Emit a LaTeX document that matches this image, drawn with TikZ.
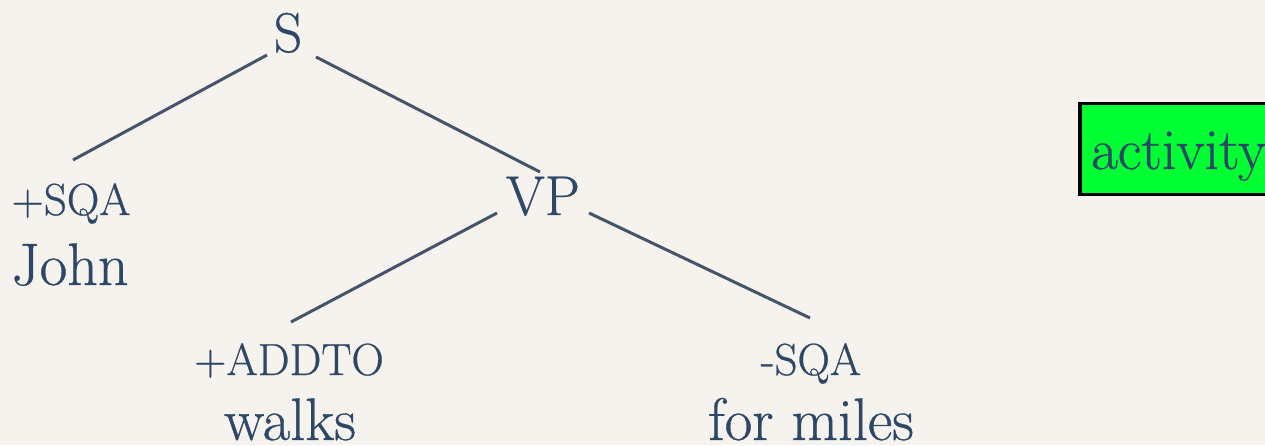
\documentclass[tikz,border=0pt]{standalone}
\usepackage{fontspec}
\newfontfamily\treefont{Latin Modern Roman}[FakeBold=0.6]
\definecolor{bgc}{HTML}{F6F3EE}
\definecolor{txt}{HTML}{2D4767}
\definecolor{edge}{HTML}{46536B}
\definecolor{grn}{HTML}{00FF33}
\tikzset{
  cat/.style={inner sep=0pt, anchor=base, text=txt, font=\treefont\fontsize{56}{62}\selectfont},
  word/.style={inner sep=0pt, anchor=base, text=txt, font=\treefont\fontsize{60}{66}\selectfont},
  small/.style={inner sep=0pt, anchor=base, text=txt, font=\treefont\fontsize{45}{52}\selectfont},
  branch/.style={draw=edge, line width=3pt},
}
\begin{document}
\begin{tikzpicture}[x=1pt,y=1pt]
\fill[bgc] (0,0) rectangle (1265,445);
\useasboundingbox (0,0) rectangle (1265,445);
\node[cat] (S) at (288,393) {S};
\node[cat] (VP) at (543,230) {VP};
\node[small] (sqa) at (71,230) {+SQA};
\node[word] (john) at (70,160) {John};
\node[small] (addto) at (289,70) {+ADDTO};
\node[word] (walks) at (290,5) {walks};
\node[small] (msqa) at (811,70) {-SQA};
\node[word] (miles) at (811,5) {for miles};
\node[draw=black, line width=3.5pt, fill=grn, minimum width=230pt, minimum height=91pt, anchor=north west, inner sep=0pt] (box) at (1078,343) {};
\node[word, font=\treefont\fontsize{58}{64}\selectfont, anchor=base west] (act) at (1091,276) {activity};
\draw[branch] ([shift={(-21,-3)}]S.base) -- ([shift={(2,55)}]sqa.base);
\draw[branch] ([shift={(28,-5)}]S.base) -- ([shift={(-3,43)}]VP.base);
\draw[branch] ([shift={(-46,2)}]VP.base) -- ([shift={(2,53)}]addto.base);
\draw[branch] ([shift={(46,2)}]VP.base) -- ([shift={(-1,57)}]msqa.base);
\end{tikzpicture}
\end{document}
